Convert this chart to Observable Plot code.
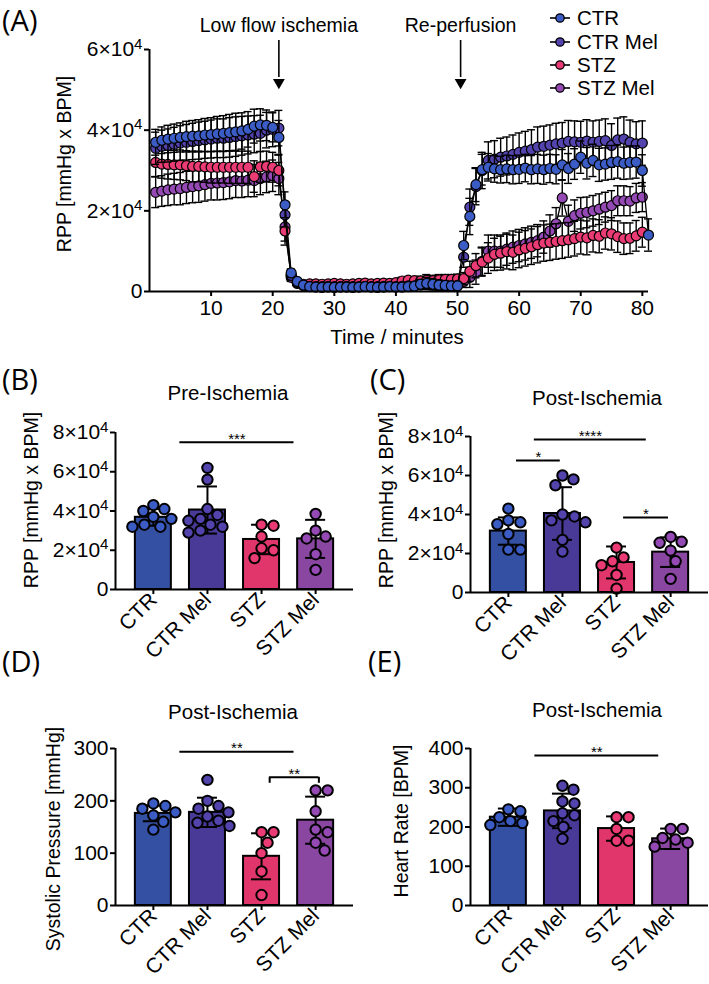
<!DOCTYPE html>
<html><head><meta charset="utf-8">
<script src="https://cdn.jsdelivr.net/npm/d3@7"></script>
<script src="https://cdn.jsdelivr.net/npm/@observablehq/plot@0.6"></script>
<style>
body{margin:0;background:#fff}
#fig{position:relative;width:709px;height:984px;overflow:hidden;font-family:"Liberation Sans",Arial,sans-serif;color:#000;background:#fff}
#fig svg{position:absolute;max-width:none}
.lbl{position:absolute;white-space:nowrap;line-height:1;transform:translate(-50%,-50%);font-size:20.5px}
.rot{transform:translate(-50%,-50%) rotate(-90deg);font-size:19.5px}
.letter{position:absolute;font-family:"Open Sans",sans-serif;font-size:29px;line-height:1;transform:translateY(-50%);white-space:nowrap}
.leg{position:absolute;white-space:nowrap;line-height:1;transform:translateY(-50%);font-size:20.5px}
[aria-label="y-axis tick"] path,[aria-label="x-axis tick"] path{stroke-width:2px}
</style>
</head><body><div id="fig"></div>
<script>
// ---------- DATA ----------
const groups = ["CTR", "CTR Mel", "STZ", "STZ Mel"];
const barColors = ["#3450a2", "#483a96", "#e0366c", "#8a47a2"];
const dotColors = ["#3a5cc4", "#5243ad", "#ea3b74", "#9549b5"];

// Panel A: time course of RPP (values in thousands)
const time = [1,2,3,4,5,6,7,8,9,10,11,12,13,14,15,16,17,18,19,20,21,22,23,24,25,26,27,28,29,30,31,32,33,34,35,36,37,38,39,40,41,42,43,44,45,46,47,48,49,50,51,52,53,54,55,56,57,58,59,60,61,62,63,64,65,66,67,68,69,70,71,72,73,74,75,76,77,78,79,80,81];
const ctr = [37.0,37.5,37.8,38.0,38.2,38.4,38.5,38.6,38.8,38.9,39.1,39.2,39.4,39.6,39.8,40.2,41.0,41.3,41.2,40.7,38.2,
 21.5,4.6,2.5,1.6,1.2,
 1.1,1.0,1.1,1.0,1.1,1.1,1.0,1.1,1.2,1.1,1.0,1.1,1.2,1.1,1.1,1.2,1.3,
 1.8,2.0,1.8,1.6,1.5,1.4,1.4,
 11.4,18.6,26.5,30.2,
 30.8,30.4,30.2,30.4,30.2,30.3,30.6,30.2,30.4,30.2,30.5,30.3,31.4,30.5,31.6,33.3,31.8,32.5,31.4,31.6,32.0,32.2,31.8,32.0,32.1,30.0,
 14.0];
const ctrSd = [3.2,3.3,3.4,3.5,3.6,3.8,3.9,4.0,4.1,4.2,4.3,4.4,4.5,4.6,4.5,4.4,4.2,4.0,3.8,3.6,4.2,
 3.2,1.0,0.6,0.5,0.4,
 0.4,0.4,0.4,0.4,0.4,0.4,0.4,0.4,0.5,0.4,0.4,0.5,0.5,0.5,0.6,0.7,0.8,
 1.2,1.5,1.4,1.3,1.2,1.1,1.0,
 3.5,4.5,4.2,3.8,
 3.4,3.3,3.3,3.4,3.5,3.5,3.4,3.5,3.6,3.6,3.5,3.6,3.8,3.7,3.8,4.0,3.9,4.0,4.1,4.0,4.2,4.1,4.0,4.1,4.0,3.9,
 4.0];
const ctrMel = [35.5,36.0,36.2,36.5,36.8,37.0,37.2,37.4,37.6,37.8,38.0,38.0,38.2,38.4,38.6,38.8,39.0,39.2,40.0,40.2,40.5,
 19.0,4.0,2.2,1.5,1.3,
 1.2,1.2,1.3,1.2,1.2,1.3,1.2,1.2,1.3,1.2,1.2,1.3,1.3,1.2,1.3,1.4,1.4,
 1.6,1.7,1.6,1.5,1.4,1.4,1.5,
 8.5,20.9,26.0,30.0,
 32.5,32.8,33.3,33.6,34.0,34.5,34.8,35.2,35.8,36.0,36.3,36.6,36.8,37.2,37.1,37.0,37.3,37.0,37.2,37.4,36.2,37.6,37.8,37.0,36.6,36.8,
 null];
const ctrMelSd = [4.0,4.0,4.1,4.2,4.3,4.4,4.5,4.6,4.6,4.7,4.8,4.8,4.9,4.9,4.8,4.7,4.6,4.5,4.4,4.3,4.4,
 3.0,1.0,0.6,0.5,0.4,
 0.4,0.4,0.4,0.4,0.4,0.4,0.4,0.4,0.4,0.4,0.4,0.4,0.5,0.5,0.5,0.6,0.6,
 1.0,1.1,1.0,1.0,0.9,0.9,0.9,
 2.5,4.5,4.5,4.5,
 4.6,4.6,4.7,4.7,4.8,4.8,4.9,4.9,5.0,5.0,5.0,5.1,5.1,5.2,5.2,5.2,5.3,5.3,5.3,5.4,5.4,5.4,5.5,5.5,5.5,5.5,
 null];
const stz = [32.0,31.6,31.5,31.4,31.4,31.2,31.0,31.0,30.9,30.8,30.8,30.8,30.8,30.8,30.8,30.8,28.5,30.9,31.0,30.8,30.0,
 15.0,4.0,2.2,1.8,1.9,
 1.9,1.8,1.9,2.0,1.9,1.8,1.9,2.0,2.1,1.9,2.0,2.1,2.0,2.2,2.6,2.8,2.7,
 2.6,2.8,2.7,2.9,3.0,3.0,3.1,
 3.2,5.0,6.4,7.3,
 8.3,9.2,9.5,9.9,9.7,10.3,10.7,11.1,11.6,12.0,12.2,12.4,12.6,12.8,13.1,13.5,13.3,13.9,13.7,14.5,14.3,13.6,13.1,13.2,13.8,14.7,
 null];
const stzSd = [3.5,3.5,3.6,3.6,3.7,3.7,3.8,3.8,3.8,3.9,3.9,3.9,4.0,4.0,4.0,4.0,3.9,3.8,3.8,3.7,3.8,
 3.5,1.2,0.7,0.6,0.6,
 0.6,0.6,0.6,0.6,0.6,0.6,0.6,0.7,0.7,0.7,0.7,0.7,0.8,0.8,0.9,0.9,0.9,
 1.2,1.4,1.3,1.3,1.2,1.2,1.2,
 1.5,2.5,3.0,3.5,
 3.8,4.0,4.2,4.3,4.3,4.4,4.4,4.4,4.5,4.5,4.5,4.4,4.4,4.3,4.3,4.2,4.2,4.1,4.1,4.0,4.0,3.9,3.9,3.8,3.8,3.7,
 null];
const stzMel = [24.6,24.9,25.2,25.4,25.5,25.8,26.0,26.2,26.5,26.8,26.9,27.0,27.2,27.5,27.4,27.6,27.5,28.0,28.4,28.7,28.0,
 16.0,3.5,2.0,1.5,1.4,
 1.3,1.4,1.3,1.4,1.5,1.4,1.3,1.4,1.5,1.4,1.5,1.6,1.5,1.6,1.7,1.8,1.8,
 1.9,1.8,1.9,2.0,1.9,2.0,2.1,
 2.5,3.5,4.8,7.5,
 10.0,10.0,10.0,10.5,11.0,11.4,11.8,12.2,12.6,13.5,15.0,16.8,23.2,17.4,18.8,19.4,19.6,20.0,20.4,20.9,21.3,22.5,22.5,22.4,23.2,23.4,
 null];
const stzMelSd = [3.8,3.8,3.9,3.9,4.0,4.0,4.0,4.1,4.1,4.1,4.2,4.2,4.2,4.2,4.1,4.1,4.0,4.0,3.9,3.9,4.0,
 3.5,1.0,0.6,0.5,0.5,
 0.5,0.5,0.5,0.5,0.5,0.5,0.5,0.5,0.5,0.5,0.5,0.5,0.6,0.6,0.6,0.6,0.7,
 0.9,0.9,0.9,1.0,1.0,1.0,1.0,
 1.5,2.5,3.0,3.5,
 4.0,4.0,4.0,4.0,4.0,4.0,4.0,4.0,4.0,4.0,4.0,4.0,4.5,4.0,3.9,3.9,3.8,3.8,3.8,3.7,3.7,3.7,3.7,3.6,3.6,3.6,
 null];
const xTicksA = [10,20,30,40,50,60,70,80];
const yTicksA = [0,20000,40000,60000];
const events = [{t:21, label:"Low flow ischemia"}, {t:50.5, label:"Re-perfusion"}];

// Panel B: Pre-Ischemia RPP (thousands)
const bMeans = [36.8, 40.5, 25.5, 25.8];
const bSds = [4.3, 12.0, 7.5, 9.7];
const bPoints = [[43,41,40,37,36,33,32,32],[62,56,41,38,36,35,33,32,30,29],[33,32.5,27,21,20,16],[38.5,30,27,26,18,10]];
const bSig = [{from:0.49, to:2.6, y:75000, label:"***"}];
// Panel C: Post-Ischemia RPP (thousands)
const cMeans = [31.5, 40.5, 15.4, 20.7];
const cSds = [7.0, 13.5, 8.2, 7.6];
const cPoints = [[43,37,36,35,30,22,22],[60,58,55,40,39,37,36,27,21],[23,18,16,14,9,2],[28.5,26,25.5,21.5,16,7]];
const cSig = [{from:0.48, to:2.55, y:78500, label:"****"},{from:0.15, to:0.96, y:67700, label:"*"},{from:2.13, to:2.96, y:38500, label:"*"}];
const rppTicks = [0,20000,40000,60000,80000];
// Panel D: Systolic pressure
const dMeans = [176, 178, 94, 163];
const dSds = [15, 28, 44, 45];
const dPoints = [[195,190,185,178,172,160,145],[240,200,190,185,178,170,162,158,152],[140,140,120,100,65,20],[220,220,180,145,140,120,105]];
const dSig = [{from:0.49, to:2.6, y:294, label:"**"},{from:2.15, to:3.06, y:245, label:"**", bracket:true}];
const dTicks = [0,100,200,300];
// Panel E: Heart rate
const eMeans = [225, 241, 196, 170];
const eSds = [22, 44, 31, 26];
const ePoints = [[245,240,225,215,210,205],[305,295,265,260,235,230,215,200,170],[225,225,195,165,165],[195,195,172,168,160,150]];
const eSig = [{from:0.49, to:2.78, y:382, label:"**"}];
const eTicks = [0,100,200,300,400];

// ---------- RENDER ----------
const fig = document.getElementById("fig");
const FONT = '"Liberation Sans", Arial, sans-serif';
function place(svg, left, top){ svg.style.left = left+"px"; svg.style.top = top+"px"; fig.appendChild(svg); }
function supFmt(v){ return v === 0 ? "0" : `${v/10000}×10^4`; }
function fixSup(svg){
  d3.select(svg).selectAll("text").each(function(){
    const m = this.textContent.match(/^(.*×10)\^(\d)$/);
    if (m) { const s = d3.select(this); s.text(null); s.append("tspan").text(m[1]); s.append("tspan").attr("font-size","0.72em").attr("dy","-0.5em").text(m[2]); }
  });
}
function html(cls, text, x, y){ const d = document.createElement("div"); d.className = cls; d.textContent = text; d.style.left = x+"px"; d.style.top = y+"px"; fig.appendChild(d); return d; }

// Panel A
(function(){
  const W=709, H=340, ml=149, mr=61, mt=49, mb=49;
  const pxPerMin = (W-ml-mr)/81;
  const capHalf = 4/pxPerMin;
  const series = [
    {name:"STZ Mel", v:stzMel, sd:stzMelSd, color:dotColors[3]},
    {name:"STZ", v:stz, sd:stzSd, color:dotColors[2]},
    {name:"CTR Mel", v:ctrMel, sd:ctrMelSd, color:dotColors[1]},
    {name:"CTR", v:ctr, sd:ctrSd, color:dotColors[0]}
  ];
  const marks = [];
  for (const s of series) {
    const d = [];
    time.forEach((t,i)=>{ if (s.v[i] != null) d.push({t, v:s.v[i]*1000, sd:s.sd[i]*1000}); });
    marks.push(Plot.ruleX(d, {x:"t", y1:r=>r.v-r.sd, y2:r=>r.v+r.sd, stroke:"black", strokeWidth:1.4}));
    marks.push(Plot.ruleY(d, {y:r=>r.v+r.sd, x1:r=>r.t-capHalf, x2:r=>r.t+capHalf, stroke:"black", strokeWidth:1.4}));
    marks.push(Plot.ruleY(d, {y:r=>r.v-r.sd, x1:r=>r.t-capHalf, x2:r=>r.t+capHalf, stroke:"black", strokeWidth:1.4}));
    marks.push(Plot.line(d, {x:"t", y:"v", stroke:"black", strokeWidth:1.3}));
    marks.push(Plot.dot(d, {x:"t", y:"v", r:5, fill:s.color, stroke:"black", strokeWidth:1.2}));
  }
  marks.push(Plot.ruleY([0], {strokeWidth:2}));
  marks.push(Plot.ruleX([0], {strokeWidth:2}));
  marks.push(Plot.text(events, {x:"t", text:"label", frameAnchor:"top", dy:-31, fontSize:19.5}));
  marks.push(Plot.ruleX(events, {x:"t", insetTop:-9, insetBottom:214, strokeWidth:1.6}));
  marks.push(Plot.dot(events, {x:"t", frameAnchor:"top", dy:33, symbol:"triangle", rotate:180, r:4.4, fill:"black", stroke:"none"}));
  const svg = Plot.plot({
    width:W, height:H, marginLeft:ml, marginRight:mr, marginTop:mt, marginBottom:mb,
    style:{fontFamily:FONT, fontSize:"21px", background:"transparent", overflow:"visible", color:"black"},
    x:{domain:[0,81], ticks:xTicksA, tickSize:5, tickPadding:4, label:null},
    y:{domain:[0,60000], ticks:yTicksA, tickFormat:supFmt, tickSize:5, tickPadding:2, label:null},
    marks
  });
  fixSup(svg);
  place(svg, 0, 0);
})();

// swarm layout for scatter dots (pixel offsets)
function swarm(vals, yPx, r){
  const order = vals.map((v,k)=>k).sort((a,b)=>vals[b]-vals[a]);
  const placed = []; const out = new Array(vals.length);
  for (const k of order) {
    const py = yPx(vals[k]);
    let off = 0;
    for (let s = 0; s < 200; s++) {
      const c = s === 0 ? 0 : (s % 2 ? 1 : -1) * Math.ceil(s/2);
      if (placed.every(p => Math.hypot(p.x - c, p.y - py) >= 2*r)) { off = c; break; }
    }
    placed.push({x:off, y:py}); out[k] = off;
  }
  return out;
}

function barPanel(cfg){
  const {means, sds, points, sig, unit, yMax, yTicks, yFmt, left, top, W, H, mt, mb, ml, mr} = cfg;
  const xDom = [-0.7, 3.7];
  const unitPx = (W-ml-mr)/(xDom[1]-xDom[0]);
  const yPx = d3.scaleLinear().domain([0, yMax]).range([H-mb, mt]);
  const bars = groups.map((g,i)=>({i, mean:means[i]*unit, sd:sds[i]*unit}));
  const barHalf = 18/unitPx, capHalf = 10/unitPx;
  const drop = 6 * yMax/(H-mt-mb);
  const marks = [];
  bars.forEach(b => marks.push(Plot.rect([b], {x1:d=>d.i-barHalf, x2:d=>d.i+barHalf, y1:0, y2:"mean", fill:barColors[b.i], stroke:"black", strokeWidth:2})));
  marks.push(Plot.ruleX(bars, {x:"i", y1:d=>d.mean-d.sd, y2:d=>d.mean+d.sd, strokeWidth:2}));
  marks.push(Plot.ruleY(bars, {y:d=>d.mean+d.sd, x1:d=>d.i-capHalf, x2:d=>d.i+capHalf, strokeWidth:2}));
  marks.push(Plot.ruleY(bars, {y:d=>Math.max(0,d.mean-d.sd), x1:d=>d.i-capHalf, x2:d=>d.i+capHalf, strokeWidth:2}));
  points.forEach((vals,i)=>{
    const v = vals.map(x=>x*unit);
    const offs = swarm(v, yPx, 5.8);
    const d = v.map((y,k)=>({x:i + offs[k]/unitPx, y}));
    marks.push(Plot.dot(d, {x:"x", y:"y", r:5.2, fill:dotColors[i], stroke:"black", strokeWidth:2}));
  });
  marks.push(Plot.ruleY([0], {strokeWidth:2}));
  marks.push(Plot.ruleX([xDom[0]], {strokeWidth:2}));
  marks.push(Plot.ruleY(sig, {y:"y", x1:"from", x2:"to", strokeWidth:2}));
  marks.push(Plot.text(sig, {x:d=>(d.from+d.to)/2, y:"y", text:"label", dy:-3, fontSize:15}));
  const br = sig.filter(d=>d.bracket);
  marks.push(Plot.ruleX(br, {x:"from", y1:"y", y2:d=>d.y-drop, strokeWidth:2}));
  marks.push(Plot.ruleX(br, {x:"to", y1:"y", y2:d=>d.y-drop, strokeWidth:2}));
  const svg = Plot.plot({
    width:W, height:H, marginLeft:ml, marginRight:mr, marginTop:mt, marginBottom:mb,
    style:{fontFamily:FONT, fontSize:"21px", background:"transparent", overflow:"visible", color:"black"},
    x:{domain:xDom, ticks:[0,1,2,3], tickFormat:i=>groups[i], tickRotate:-45, tickSize:5, tickPadding:2, label:null},
    y:{domain:[0,yMax], ticks:yTicks, tickFormat:yFmt, tickSize:5, tickPadding:2, label:null},
    marks
  });
  fixSup(svg);
  place(svg, left, top);
}

barPanel({means:bMeans, sds:bSds, points:bPoints, sig:bSig, unit:1000, yMax:80000, yTicks:rppTicks, yFmt:supFmt, left:0, top:370, W:360, H:310, mt:62, mb:91, ml:115, mr:7});
barPanel({means:cMeans, sds:cSds, points:cPoints, sig:cSig, unit:1000, yMax:80000, yTicks:rppTicks, yFmt:supFmt, left:355, top:370, W:354, H:310, mt:66, mb:88, ml:115, mr:1});
barPanel({means:dMeans, sds:dSds, points:dPoints, sig:dSig, unit:1, yMax:300, yTicks:dTicks, yFmt:d=>String(d), left:0, top:680, W:360, H:304, mt:68, mb:79, ml:115, mr:7});
barPanel({means:eMeans, sds:eSds, points:ePoints, sig:eSig, unit:1, yMax:400, yTicks:eTicks, yFmt:d=>String(d), left:355, top:680, W:354, H:304, mt:68, mb:79, ml:115, mr:1});

// ---------- TEXT ----------
html("letter", "(A)", 2, 19);
html("letter", "(B)", 2, 378);
html("letter", "(C)", 370, 378);
html("letter", "(D)", 2, 660);
html("letter", "(E)", 368, 660);
html("lbl rot", "RPP [mmHg x BPM]", 65, 164);
html("lbl", "Time / minutes", 397, 337);
html("lbl", "Pre-Ischemia", 228, 393);
html("lbl", "Post-Ischemia", 597, 398);
html("lbl", "Post-Ischemia", 233, 712);
html("lbl", "Post-Ischemia", 597, 710);
html("lbl rot", "RPP [mmHg x BPM]", 32, 500);
html("lbl rot", "RPP [mmHg x BPM]", 387, 500);
html("lbl rot", "Systolic Pressure [mmHg]", 54, 839);
html("lbl rot", "Heart Rate [BPM]", 402, 821);

// legend
const legY = [18, 42, 65, 88];
groups.forEach((g,i)=>{
  const s = d3.create("svg").attr("width",26).attr("height",12).style("left","548px").style("top",(legY[i]-6)+"px");
  s.append("line").attr("x1",2).attr("x2",22).attr("y1",6).attr("y2",6).attr("stroke","black").attr("stroke-width",1.6);
  s.append("circle").attr("cx",12).attr("cy",6).attr("r",4.2).attr("fill",dotColors[i]).attr("stroke","black").attr("stroke-width",1.3);
  fig.appendChild(s.node());
  html("leg", g, 577, legY[i]);
});
</script></body></html>
